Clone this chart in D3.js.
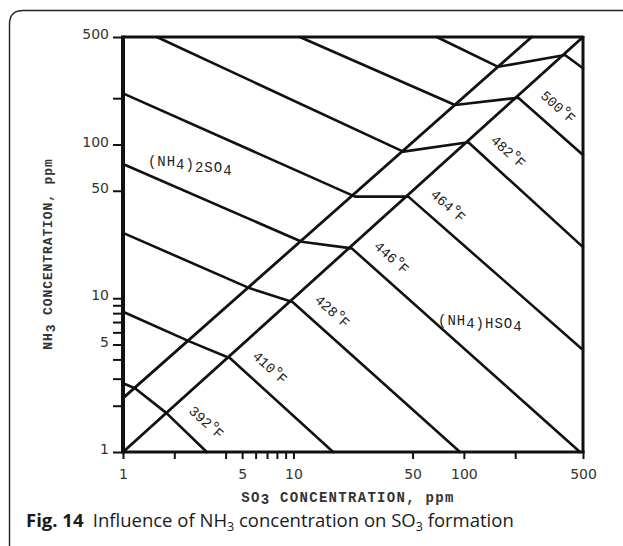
<!DOCTYPE html>
<html>
<head>
<meta charset="utf-8">
<script src="https://cdn.jsdelivr.net/npm/d3@7"></script>
<style>
  html, body { margin: 0; padding: 0; background: #fff; }
  svg { display: block; }
</style>
</head>
<body>
<svg id="chart" width="623" height="546"></svg>
<script>
// ---------- data (SO3 ppm, NH3 ppm) ----------
const xTickValues = [1, 2, 4, 5, 6, 7, 8, 9, 10, 50, 100, 200, 500];
const xTickLabels = [1, 5, 10, 50, 100, 500];
const yTickValues = [1, 2, 3, 4, 5, 6, 7, 8, 9, 10, 50, 100, 200, 500];
const yTickLabels = [1, 5, 10, 50, 100, 500];

// boundary lines between the three regions
const boundaryA = [[1, 2.24], [250, 500]];
const boundaryB = [[1, 1], [500, 500]];

// iso-temperature lines: upper region point, A crossing, B crossing, end
const temperatures = ["392", "410", "428", "446", "464", "482", "500", ""];
const iso392 = [[1, 2.80], [1.176, 2.60], [1.80, 1.79], [3.10, 1]];
const iso410 = [[1, 8.17], [2.47, 5.22], [4.25, 4.07], [17.1, 1]];
const iso428 = [[1, 26.6], [5.56, 11.6], [9.88, 9.46], [94.9, 1]];
const iso446 = [[1, 74.7], [11.18, 23.3], [22.0, 21.1], [480, 1]];
const iso464 = [[1, 215], [23.0, 45.8], [47.2, 45.8], [500, 4.61]];
const iso482 = [[1.58, 500], [44.1, 89.8], [106.2, 103.3], [500, 21.5]];
const iso500 = [[10.9, 500], [88.7, 180.6], [208.6, 201.5], [500, 85.4]];
const isoTop = [[69.3, 500], [159, 320], [392, 382], [500, 313]];
const isoLines = [iso392, iso410, iso428, iso446, iso464, iso482, iso500, isoTop];

// region names, anchored at (SO3, NH3)
const regionNames = ["(NH4)2SO4", "(NH4)HSO4"];
const regionAnchors = [[1.40, 72.4], [70.5, 6.70]];

// ---------- layout ----------
const svg = d3.select("#chart");
const x = d3.scaleLog().domain([1, 500]).range([123, 583]);
const y = d3.scaleLog().domain([1, 500]).range([452, 37]);
const INK = "#111";
const MONO = "'Liberation Mono', 'DejaVu Sans Mono', monospace";

// outer rounded frame (open to the right and bottom)
svg.append("path")
  .attr("d", "M9.5,546 V24 Q9.5,10.5 23,10.5 H623")
  .attr("fill", "none").attr("stroke", "#222").attr("stroke-width", 1.4);

// axes
const xAxis = d3.axisBottom(x).tickValues(xTickValues)
  .tickFormat(d => xTickLabels.includes(d) ? String(d) : "")
  .tickSize(7).tickPadding(10);
const gx = svg.append("g").attr("transform", "translate(0,452)").call(xAxis);
gx.select(".domain").remove();
gx.selectAll(".tick line").attr("stroke", INK).attr("stroke-width", 2);
gx.selectAll(".tick text").attr("font-family", "'DejaVu Sans', sans-serif")
  .attr("font-size", 14).attr("fill", "#333");

const yAxis = d3.axisLeft(y).tickValues(yTickValues)
  .tickFormat(d => yTickLabels.includes(d) ? String(d) : "")
  .tickSize(9).tickPadding(4);
const gy = svg.append("g").attr("transform", "translate(122,0)").call(yAxis);
gy.select(".domain").remove();
gy.selectAll(".tick line").attr("stroke", INK).attr("stroke-width", 2);
gy.selectAll(".tick text").attr("font-family", "'DejaVu Sans', sans-serif")
  .attr("font-size", 14).attr("fill", "#333").attr("dy", "0.12em");

// plot frame
const [x0, x1] = x.range(), [y0, y1] = y.range();
svg.append("line").attr("x1", x0).attr("x2", x1).attr("y1", y1).attr("y2", y1)
  .attr("stroke", INK).attr("stroke-width", 3);
svg.append("line").attr("x1", x1).attr("x2", x1).attr("y1", y1 - 1).attr("y2", y0 + 1)
  .attr("stroke", INK).attr("stroke-width", 3);
svg.append("line").attr("x1", x0 - 1).attr("x2", x1 + 1.5).attr("y1", y0).attr("y2", y0)
  .attr("stroke", INK).attr("stroke-width", 3.2);
svg.append("line").attr("x1", x0).attr("x2", x0).attr("y1", y1 - 1.5).attr("y2", y0 + 1.5)
  .attr("stroke", INK).attr("stroke-width", 4);

// lines
const line = d3.line().x(d => x(d[0])).y(d => y(d[1]));
svg.append("g").selectAll("path").data([boundaryA, boundaryB]).join("path")
  .attr("d", line).attr("fill", "none").attr("stroke", INK)
  .attr("stroke-width", 2.8).attr("stroke-linecap", "round");
svg.append("g").selectAll("path").data(isoLines).join("path")
  .attr("d", line).attr("fill", "none").attr("stroke", INK)
  .attr("stroke-width", 2.6).attr("stroke-linejoin", "round").attr("stroke-linecap", "round");

// temperature labels, placed beside each line's B crossing, along the lower segment
const angle = Math.atan2(y(1) - y(10), x(10) - x(1)) * 180 / Math.PI;
isoLines.forEach((pts, i) => {
  if (!temperatures[i]) return;
  const px = x(pts[2][0]) + 40, py = y(pts[2][1]) + 9;
  const t = svg.append("text")
    .attr("transform", `translate(${px},${py}) rotate(${angle})`)
    .attr("text-anchor", "middle").attr("dy", "0.35em")
    .attr("font-family", MONO).attr("font-size", 14)
    .attr("fill", "#222");
  t.append("tspan").text(temperatures[i]);
  t.append("tspan").attr("font-size", 17).attr("dy", -1).attr("dx", -1).text("°");
  t.append("tspan").attr("dy", 1).attr("dx", -2).text("F");
});

// region names with typewriter subscripts
function chem(sel, parts) {
  parts.forEach(([s, sub]) => {
    sel.append("tspan").attr("dy", sub ? 3 : 0).text(s);
    if (sub) sel.append("tspan").attr("dy", -3).text("");
  });
}
const rn0 = svg.append("text").attr("x", x(regionAnchors[0][0])).attr("y", y(regionAnchors[0][1]))
  .attr("font-family", MONO).attr("font-size", 14).attr("letter-spacing", 1).attr("fill", "#222");
chem(rn0, [["(NH", 0], ["4", 1], [")", 0], ["2", 1], ["SO", 0], ["4", 1]]);
const rn1 = svg.append("text").attr("x", x(regionAnchors[1][0])).attr("y", y(regionAnchors[1][1]))
  .attr("font-family", MONO).attr("font-size", 14).attr("letter-spacing", 1).attr("fill", "#222");
chem(rn1, [["(NH", 0], ["4", 1], [")HSO", 0], ["4", 1]]);
rn0.attr("data-label", regionNames[0]);
rn1.attr("data-label", regionNames[1]);

// axis titles
const xt = svg.append("text").attr("x", (x0 + x1) / 2 - 5).attr("y", 502)
  .attr("text-anchor", "middle").attr("font-family", MONO).attr("font-weight", "bold")
  .attr("font-size", 14).attr("letter-spacing", 1.3).attr("fill", "#333");
xt.append("tspan").text("SO");
xt.append("tspan").attr("dy", 2).text("3");
xt.append("tspan").attr("dy", -2).text(" CONCENTRATION, ppm");

const yt = svg.append("text").attr("transform", "translate(52,254) rotate(-90)")
  .attr("text-anchor", "middle").attr("font-family", MONO).attr("font-weight", "bold")
  .attr("font-size", 13).attr("letter-spacing", 0.9).attr("fill", "#333");
yt.append("tspan").text("NH");
yt.append("tspan").attr("dy", 3).text("3");
yt.append("tspan").attr("dy", -3).text(" CONCENTRATION, ppm");

// caption
const cap = svg.append("text").attr("x", 26).attr("y", 527)
  .attr("font-family", "'Open Sans', 'Noto Sans', sans-serif").attr("font-size", 18.5).attr("fill", "#1a1a1a");
cap.append("tspan").attr("font-weight", "bold").text("Fig. 14");
cap.append("tspan").text("\u2002Influence of NH");
cap.append("tspan").attr("font-size", 12.5).attr("dy", 4).text("3");
cap.append("tspan").attr("dy", -4).text(" concentration on SO");
cap.append("tspan").attr("font-size", 12.5).attr("dy", 4).text("3");
cap.append("tspan").attr("dy", -4).text(" formation");
</script>
</body>
</html>
